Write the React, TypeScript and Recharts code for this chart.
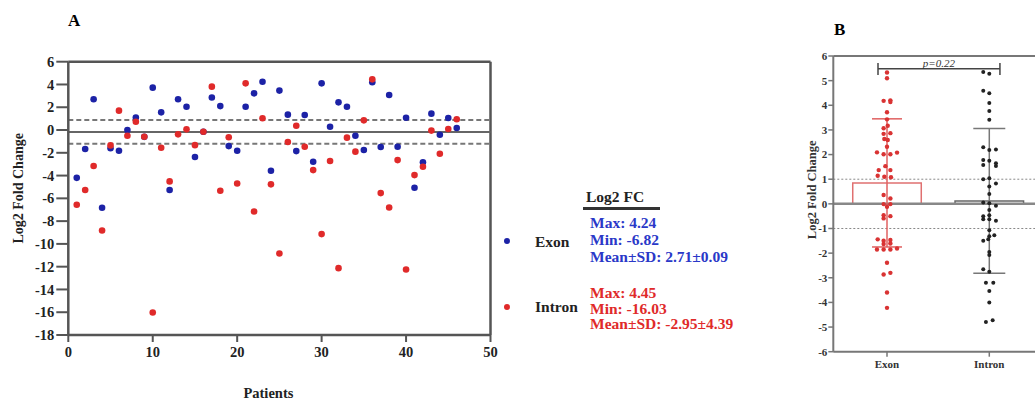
import React from "react"
import { ScatterChart, Scatter, XAxis, YAxis, ReferenceLine, ReferenceArea, ErrorBar } from "recharts"

const SERIF = '"Liberation Serif", "Times New Roman", serif'

// Panel A: log2 fold change per patient (patients 1..46)
const patients = Array.from({ length: 46 }, (_, i) => i + 1)
const exonFC = [
  -4.2, -1.67, 2.7, -6.82, -1.6, -1.82, 0, 1.1, -0.6, 3.72,
  1.55, -5.27, 2.7, 2.05, -2.37, -0.15, 2.85, 2.1, -1.41, -1.82,
  2.05, 3.22, 4.24, -3.58, 3.46, 1.35, -1.85, 1.32, -2.78, 4.1,
  0.29, 2.43, 2.05, -0.5, -1.76, 4.19, -1.49, 3.08, -1.47, 1.08,
  -5.07, -2.84, 1.44, -0.41, 1.06, 0.18,
]
const intronFC = [
  -6.56, -5.27, -3.16, -8.82, -1.35, 1.7, -0.5, 0.73, -0.59, -16.03,
  -1.55, -4.51, -0.38, 0.06, -1.33, -0.15, 3.81, -5.33, -0.64, -4.69,
  4.1, -7.15, 1.03, -4.77, -10.84, -1.05, 0.38, -1.47, -3.52, -9.14,
  -2.72, -12.13, -0.67, -1.9, 0.85, 4.45, -5.54, -6.8, -2.64, -12.25,
  -3.96, -3.22, -0.05, -2.08, 0.09, 0.94,
]
const xTicksA = [0, 10, 20, 30, 40, 50]
const yTicksA = [6, 4, 2, 0, -2, -4, -6, -8, -10, -12, -14, -16, -18]
const cutoffLines = [0.88, -1.2]
const centerLine = -0.17

const exonStats = ["Max: 4.24", "Min: -6.82", "Mean±SD: 2.71±0.09"]
const intronStats = ["Max: 4.45", "Min: -16.03", "Mean±SD: -2.95±4.39"]

// Panel B: column scatter with mean ± SD
const groups = ["Exon", "Intron"]
const exonB = [
  5.33, 5.1, 4.18, 4.2, 4.13, 3.72, 3.43, 3.07, 3.17, 2.84,
  2.87, 2.63, 2.59, 2.32, 2.09, 2.01, 2.01, 2.08, 1.53, 1.37,
  1.37, 1.14, 1.1, 1.08, 0.36, 0.22, -0.01, -0.01, -0.12, -0.46,
  -0.5, -0.59, -1.44, -1.5, -1.47, -1.63, -1.61, -1.85, -1.85, -1.85,
  -1.81, -2.39, -2.87, -2.8, -3.6, -4.22,
]
const exonJitter = [
  0, 0, -0.033, 0.033, 0.033, 0, 0, -0.033, 0.007, -0.033,
  0.033, -0.026, 0.007, 0, -0.098, -0.033, 0.033, 0.098, -0.016, 0.033,
  -0.081, -0.091, -0.026, 0.039, -0.033, 0.033, -0.033, 0.033, 0, -0.033,
  0.033, -0.033, -0.091, -0.033, 0.033, -0.033, 0.033, -0.098, -0.033, 0.033,
  0.098, 0, -0.033, 0.033, 0, 0,
]
const intronB = [
  5.35, 5.28, 4.59, 4.49, 4.09, 3.77, 3.41, 2.3, 2.19, 2.21,
  1.78, 1.75, 1.65, 1.58, 1.54, 1.04, 1.0, 0.83, 0.7, 0.4,
  0.02, 0.05, -0.08, -0.25, -0.46, -0.5, -0.62, -0.63, -0.69, -1.07,
  -1.31, -1.27, -1.5, -1.44, -1.95, -2.08, -2.65, -2.76, -3.2, -3.2,
  -3.54, -4.0, -4.79, -4.72,
]
const intronJitter = [
  -0.059, 0, -0.059, 0, 0, 0, 0, -0.059, 0, 0.065,
  -0.059, 0, 0.065, -0.059, 0.065, 0, -0.059, 0.065, 0, 0,
  0, -0.059, 0.065, 0, 0, -0.059, -0.059, 0, 0.065, 0,
  0, 0.049, -0.059, -0.01, 0, 0, -0.059, 0, -0.033, 0.039,
  0, 0, -0.033, 0.033,
]
const groupMeans = [0.85, 0.12]
const groupSD = [2.6, 2.94]
const yTicksB = [6, 5, 4, 3, 2, 1, 0, -1, -2, -3, -4, -5, -6]
const pValue = "p=0.22"

const BLUE = "#1c22a6"
const RED = "#e02a2a"
const BLUE_TXT = "#2a38c8"
const AXIS = "#555"

const exonA = patients.map((p, i) => ({ x: p, y: exonFC[i] }))
const intronA = patients.map((p, i) => ({ x: p, y: intronFC[i] }))
const exonPts = exonB.map((v, i) => ({ x: 1 + exonJitter[i], y: v }))
const intronPts = intronB.map((v, i) => ({ x: 2 + intronJitter[i], y: v }))
const meanPts = groups.map((g, i) => ({ x: i + 1, y: groupMeans[i], err: groupSD[i] }))

const dot = (r: number, fill: string) => (p: any) => <circle cx={p.cx} cy={p.cy} r={r} fill={fill} />
const hidden = () => <g />

const tickA = { fill: "#222", fontSize: 14.5, fontWeight: "bold", fontFamily: SERIF }
const tickB = { fill: "#333", fontSize: 11, fontWeight: "bold", fontFamily: SERIF }

const txt = (left: number, top: number, text: string, color: string, extra: any = {}) => (
  <div style={{ position: "absolute", left, top, color, fontSize: 15.5, fontWeight: "bold", lineHeight: "16px", whiteSpace: "nowrap", ...extra }}>
    {text}
  </div>
)

export default function App() {
  return (
    <div style={{ position: "fixed", left: 0, top: 0, width: 1035, height: 405, overflow: "hidden", background: "#fff", fontFamily: SERIF }}>
      <div style={{ position: "absolute", left: 68, top: 11, fontSize: 17, fontWeight: "bold" }}>A</div>
      <div style={{ position: "absolute", left: 834, top: 20, fontSize: 17, fontWeight: "bold" }}>B</div>

      <div style={{ position: "absolute", left: 0, top: 0 }}>
        <ScatterChart width={800} height={405} margin={{ top: 61.7, right: 309.5, bottom: 30, left: 8.3 }}>
          <XAxis
            type="number"
            dataKey="x"
            domain={[0, 50]}
            ticks={xTicksA}
            height={40}
            tick={tickA}
            tickSize={7}
            tickMargin={5}
            axisLine={{ stroke: AXIS, strokeWidth: 2.5 }}
            tickLine={{ stroke: AXIS, strokeWidth: 2 }}
            label={{
              content: (p: any) => (
                <text x={p.viewBox.x + p.viewBox.width / 2 - 11} y={p.viewBox.y + 63} textAnchor="middle" fill="#222" fontSize={14.5} fontWeight="bold" fontFamily={SERIF}>
                  Patients
                </text>
              ),
            }}
          />
          <YAxis
            type="number"
            dataKey="y"
            domain={[-18, 6]}
            ticks={yTicksA}
            width={60}
            tick={tickA}
            tickSize={12}
            tickMargin={2}
            axisLine={{ stroke: AXIS, strokeWidth: 2.5 }}
            tickLine={{ stroke: AXIS, strokeWidth: 2 }}
            label={{
              content: (p: any) => {
                const x = p.viewBox.x + 10
                const y = p.viewBox.y + p.viewBox.height / 2 - 10
                return (
                  <text x={x} y={y} transform={`rotate(-90 ${x} ${y})`} textAnchor="middle" dominantBaseline="central" fill="#222" fontSize={14} fontWeight="bold" fontFamily={SERIF}>
                    Log2 Fold Change
                  </text>
                )
              },
            }}
          />
          <ReferenceLine y={6} stroke={AXIS} strokeWidth={2.5} />
          <ReferenceLine x={50} stroke={AXIS} strokeWidth={2.5} />
          {cutoffLines.map((v) => (
            <ReferenceLine key={v} y={v} stroke="#777" strokeWidth={2} strokeDasharray="5 3" />
          ))}
          <ReferenceLine y={centerLine} stroke="#666" strokeWidth={2} />
          <Scatter data={exonA} shape={dot(3.3, BLUE)} isAnimationActive={false} />
          <Scatter data={intronA} shape={dot(3.3, RED)} isAnimationActive={false} />
        </ScatterChart>
      </div>

      {/* summary box for panel A */}
      {txt(586, 189, "Log2 FC", "#222")}
      <div style={{ position: "absolute", left: 583, top: 207, width: 77, height: 3, background: "#333" }} />
      <div style={{ position: "absolute", left: 504, top: 238, width: 6, height: 6, borderRadius: 3, background: BLUE }} />
      {txt(535, 234, "Exon", "#222")}
      {exonStats.map((s, i) => txt(590, 215 + i * 17, s, BLUE_TXT))}
      <div style={{ position: "absolute", left: 504, top: 304, width: 6, height: 6, borderRadius: 3, background: RED }} />
      {txt(535, 299, "Intron", "#222")}
      {intronStats.map((s, i) => txt(590, 285 + i * 15.5, s, RED))}

      <div style={{ position: "absolute", left: 780, top: 0 }}>
        <ScatterChart width={280} height={405} margin={{ top: 56, right: 17, bottom: 13.3, left: 13.3 }}>
          <XAxis
            type="number"
            dataKey="x"
            domain={[0.475, 2.525]}
            allowDataOverflow
            ticks={[1, 2]}
            tickFormatter={(v: number) => groups[v - 1]}
            height={40}
            tick={tickB}
            tickSize={5}
            tickMargin={3}
            axisLine={{ stroke: "#777", strokeWidth: 2 }}
            tickLine={{ stroke: "#777", strokeWidth: 1.5 }}
          />
          <YAxis
            type="number"
            dataKey="y"
            domain={[-6, 6]}
            ticks={yTicksB}
            width={40}
            tick={tickB}
            tickSize={5}
            tickMargin={1}
            axisLine={{ stroke: "#777", strokeWidth: 2 }}
            tickLine={{ stroke: "#777", strokeWidth: 1.5 }}
            label={{
              content: (p: any) => {
                const x = p.viewBox.x + 19
                const y = p.viewBox.y + p.viewBox.height / 2 - 14
                return (
                  <text x={x} y={y} transform={`rotate(-90 ${x} ${y})`} textAnchor="middle" dominantBaseline="central" fill="#333" fontSize={12.5} fontWeight="bold" fontFamily={SERIF}>
                    Log2 Fold Change
                  </text>
                )
              },
            }}
          />
          <ReferenceLine y={6} stroke="#777" strokeWidth={2} />
          <ReferenceLine y={1} stroke="#888" strokeWidth={1} strokeDasharray="2 2" />
          <ReferenceLine y={-1} stroke="#888" strokeWidth={1} strokeDasharray="2 2" />
          <ReferenceArea x1={1 - 0.335} x2={1 + 0.335} y1={0} y2={groupMeans[0]} fill="none" stroke="#e07070" strokeWidth={1.5} />
          <ReferenceArea x1={2 - 0.335} x2={2 + 0.335} y1={0} y2={groupMeans[1]} fill="none" stroke="#666" strokeWidth={1.5} />
          <ReferenceLine y={0} stroke="#888" strokeWidth={2.5} />
          <ReferenceLine
            segment={[{ x: 0.912, y: 5.48 }, { x: 2.104, y: 5.48 }]}
            stroke="#444"
            strokeWidth={1.5}
            label={{ value: pValue, position: "top", offset: 2, fill: "#333", fontSize: 11, fontStyle: "italic", fontFamily: SERIF }}
          />
          <ReferenceLine segment={[{ x: 0.912, y: 5.23 }, { x: 0.912, y: 5.72 }]} stroke="#444" strokeWidth={1.5} />
          <ReferenceLine segment={[{ x: 2.104, y: 5.23 }, { x: 2.104, y: 5.72 }]} stroke="#444" strokeWidth={1.5} />
          <Scatter data={[meanPts[0]]} shape={hidden} isAnimationActive={false}>
            <ErrorBar dataKey="err" direction="y" width={15} stroke="#e06060" strokeWidth={1.5} />
          </Scatter>
          <Scatter data={[meanPts[1]]} shape={hidden} isAnimationActive={false}>
            <ErrorBar dataKey="err" direction="y" width={16} stroke="#777" strokeWidth={1.5} />
          </Scatter>
          <Scatter data={exonPts} shape={dot(2.2, "#d93333")} isAnimationActive={false} />
          <Scatter data={intronPts} shape={dot(2, "#222")} isAnimationActive={false} />
        </ScatterChart>
      </div>
    </div>
  )
}
